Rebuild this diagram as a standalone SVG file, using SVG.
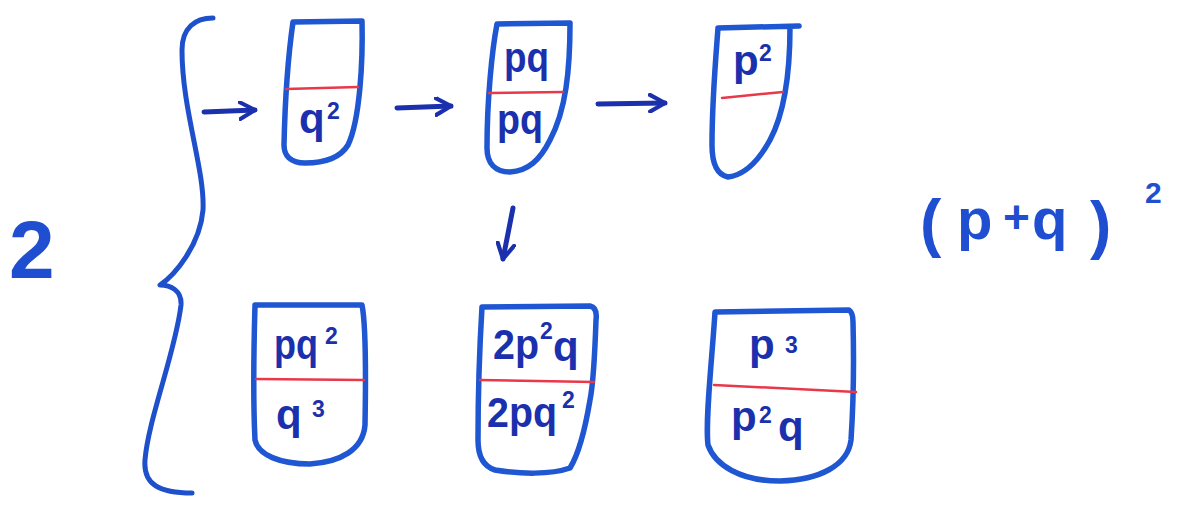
<svg xmlns="http://www.w3.org/2000/svg" width="1183" height="507" viewBox="0 0 1183 507">
<style>
.box{fill:none;stroke:#1f56d2;stroke-width:5.5;stroke-linecap:round;stroke-linejoin:round}
.red{fill:none;stroke:#e8384a;stroke-width:2.5;stroke-linecap:round}
.ink{fill:none;stroke:#1f50cc;stroke-width:5;stroke-linecap:round;stroke-linejoin:round}
.t{font-family:"Liberation Sans",Arial,sans-serif;font-weight:bold;fill:#1b30ad}
.b{font-size:42px}
.s{font-size:23px}
.big{font-family:"Liberation Sans",Arial,sans-serif;font-weight:bold;fill:#1f4fd0}
</style>
<defs>
<marker id="ah" viewBox="0 0 12 12" refX="10" refY="6" markerWidth="4" markerHeight="4" orient="auto" markerUnits="strokeWidth">
<path d="M1,1 L10,6 L1,11" fill="none" stroke="#1b30ad" stroke-width="2.5" stroke-linecap="round" stroke-linejoin="round"/>
</marker>
</defs>
<rect width="1183" height="507" fill="#ffffff"/>

<text class="big" x="9" y="278" font-size="82">2</text>
<path class="ink" d="M213,18 C195,18 182,28 182,50 C182,110 205,170 203,210 C200,245 175,275 160,285 C170,285 182,290 181,305 C176,350 148,420 145,460 C143,485 160,493 192,493"/>

<g id="connectors">
<path d="M204,112 L255,110" stroke="#1b30ad" stroke-width="5" fill="none" stroke-linecap="round" marker-end="url(#ah)"/>
<path d="M397,108 L451,106" stroke="#1b30ad" stroke-width="5" fill="none" stroke-linecap="round" marker-end="url(#ah)"/>
<path d="M598,104 L665,103" stroke="#1b30ad" stroke-width="5" fill="none" stroke-linecap="round" marker-end="url(#ah)"/>
<path d="M513,208 L503,259" stroke="#1b30ad" stroke-width="5" fill="none" stroke-linecap="round" marker-end="url(#ah)"/>
</g>

<g id="node-q2">
<path class="box" d="M293,22 L362,21 C363,60 360,120 348,145 C340,158 325,163 305,163 C290,163 284,155 284,145 C285,100 289,50 293,22 Z"/>
<path class="red" d="M286,89 L358,87"/>
<text class="t b" x="299" y="133">q</text>
<text class="t s" x="327" y="119">2</text>
</g>

<g id="node-pq">
<path class="box" d="M497,24 L570,23 C570,70 566,110 550,140 C540,160 528,171 510,172 C495,172 487,163 487,148 C487,100 492,50 497,24 Z"/>
<path class="red" d="M489,93 L563,92"/>
<text class="t b" x="504" y="72" textLength="45" lengthAdjust="spacingAndGlyphs">pq</text>
<text class="t b" x="497" y="134" textLength="46" lengthAdjust="spacingAndGlyphs">pq</text>
</g>

<g id="node-p2">
<path class="box" d="M718,28 L799,26 M790,27 C790,70 786,110 770,140 C758,162 745,175 728,177 C718,175 712,165 712,145 C712,100 716,55 718,28"/>
<path class="red" d="M722,98 L783,92"/>
<text class="t b" x="733" y="75">p</text>
<text class="t s" x="759" y="61">2</text>
</g>

<g id="node-pq2-q3">
<path class="box" d="M255,305 L362,305 C365,320 366,370 365,425 C363,450 340,462 310,464 C280,464 258,455 255,440 C253,400 254,340 255,305 Z"/>
<path class="red" d="M256,379 L364,380"/>
<text class="t b" x="274" y="359" textLength="44" lengthAdjust="spacingAndGlyphs">pq</text>
<text class="t s" x="325" y="344">2</text>
<text class="t b" x="276" y="429">q</text>
<text class="t s" x="312" y="417">3</text>
</g>

<g id="node-2p2q-2pq2">
<path class="box" d="M482,307 L590,306 C595,307 597,312 596,320 C595,350 594,380 590,400 C585,430 578,455 570,468 C550,475 520,474 495,470 C482,466 478,455 478,440 C478,390 480,340 482,307 Z"/>
<path class="red" d="M480,380 L594,382"/>
<text class="t b" x="493" y="359" textLength="46" lengthAdjust="spacingAndGlyphs">2p</text>
<text class="t s" x="540" y="339">2</text>
<text class="t b" x="553" y="361">q</text>
<text class="t b" x="487" y="427" textLength="70" lengthAdjust="spacingAndGlyphs">2pq</text>
<text class="t s" x="562" y="408">2</text>
</g>

<g id="node-p3-p2q">
<path class="box" d="M715,312 L849,310 C852,312 853,316 853,322 C854,360 853,410 851,440 C848,465 820,480 780,481 C740,481 715,465 708,445 C705,420 712,360 715,312 Z"/>
<path class="red" d="M714,385 L856,392"/>
<text class="t b" x="749" y="359">p</text>
<text class="t s" x="785" y="353">3</text>
<text class="t b" x="731" y="431">p</text>
<text class="t s" x="759" y="423">2</text>
<text class="t b" x="778" y="441">q</text>
</g>

<g id="expr">
<text class="big" font-size="64" x="920" y="245">(</text>
<text class="big" font-size="58" x="957" y="239">p</text>
<text class="big" font-size="46" x="1003" y="233">+</text>
<text class="big" font-size="58" x="1032" y="239">q</text>
<text class="big" font-size="64" x="1090" y="247">)</text>
<text class="big" font-size="30" x="1145" y="203">2</text>
</g>
</svg>
